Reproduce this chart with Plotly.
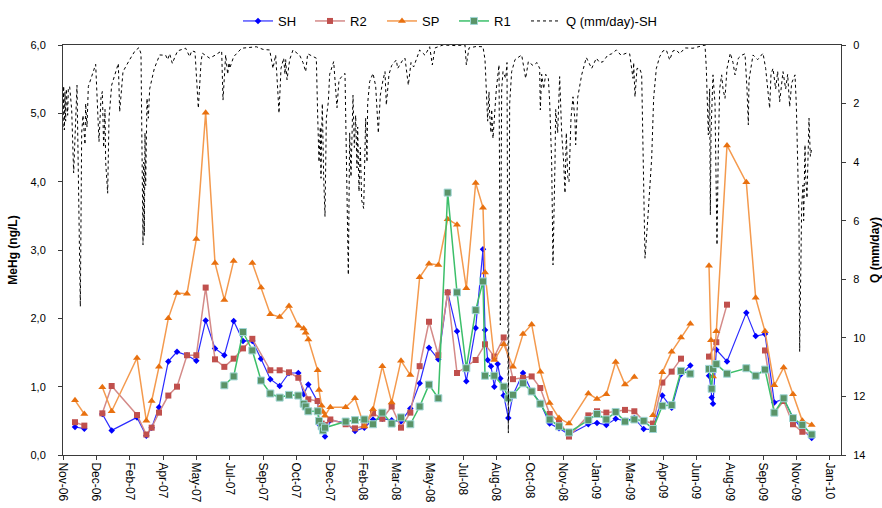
import pandas as pd
import plotly.graph_objects as go

# ---- MeHg samples (ng/L); None marks a break in the sampling record ----
sh_dates = ["2006-11-28", "2006-12-12", "2006-12-26", "2007-01-08", "2007-01-22", "2007-03-01", "2007-03-15",
            "2007-03-23", "2007-04-03", "2007-04-17", "2007-04-30", "2007-05-15", "2007-05-29", "2007-06-12",
            "2007-06-26", "2007-07-10", "2007-07-24", "2007-08-07", "2007-08-21", "2007-09-03", "2007-09-17",
            "2007-10-01", "2007-10-15", "2007-10-29", "2007-11-06", "2007-11-13", "2007-11-27", "2007-11-29",
            "2007-12-03", "2007-12-05", "2007-12-08", "2007-12-16", "2008-01-08", "2008-01-22", "2008-02-05",
            "2008-02-18", "2008-03-03", "2008-03-17", "2008-03-31", "2008-04-14", "2008-04-28", "2008-05-12",
            "2008-05-26", "2008-06-09", "2008-06-23", "2008-07-07", "2008-07-21", "2008-08-01", "2008-08-04",
            "2008-08-08", "2008-08-13", "2008-08-18", "2008-08-23", "2008-08-27", "2008-09-01", "2008-09-08",
            "2008-09-15", "2008-09-30", "2008-10-13", "2008-10-26", "2008-11-09", "2008-11-23", "2008-12-08",
            "2009-01-06", "2009-01-19", "2009-02-02", "2009-02-16", "2009-03-02", "2009-03-16", "2009-03-30",
            "2009-04-13", "2009-04-27", "2009-05-11", "2009-05-25", "2009-06-08", "2009-06-22", "2009-07-06",
            "2009-07-09", "2009-07-10", "2009-07-12", "2009-07-17", "2009-08-02", "2009-08-31", "2009-09-14",
            "2009-09-28", "2009-10-12", "2009-10-26", "2009-11-09", "2009-11-23", "2009-12-07"]
sh_vals = [0.41, 0.385, None, 0.60, 0.36, 0.55, 0.28,
           0.40, 0.70, 1.37, 1.51, 1.46, 1.38, 1.97,
           1.56, 1.46, 1.96, 1.67, 1.67, 1.41, 1.11,
           1.01, 1.20, 1.20, 0.89, 1.03, 0.78, 0.45,
           0.40, 0.35, 0.27, 0.51, 0.47, 0.35, 0.40,
           0.52, 0.53, 0.51, 0.49, 0.68, 1.05, 1.57,
           1.40, 2.38, 1.81, 1.08, 1.86, 3.01, 1.83,
           1.39, 1.30, 1.00, 1.33, 1.12, 0.87, 0.54,
           0.88, 1.20, 0.93, 0.76, 0.46, 0.39, 0.30,
           0.45, 0.47, 0.44, 0.53, 0.50, 0.54, 0.38,
           0.37, 0.87, 0.69, 1.18, 1.31, None, 1.16,
           0.98, 0.84, 0.75, 1.54, 1.37, 2.08, 1.74,
           1.77, 0.77, 0.82, 0.55, 0.37, 0.25]

r2_dates = ["2006-11-28", "2006-12-12", "2006-12-26", "2007-01-08", "2007-01-22", "2007-03-01", "2007-03-15",
            "2007-03-23", "2007-04-03", "2007-04-17", "2007-04-30", "2007-05-15", "2007-05-29", "2007-06-12",
            "2007-06-26", "2007-07-10", "2007-07-24", "2007-08-07", "2007-08-21", "2007-09-17", "2007-10-01",
            "2007-10-15", "2007-10-29", "2007-11-13", "2007-11-27", "2007-11-29", "2007-12-03", "2007-12-08",
            "2007-12-16", "2008-01-08", "2008-01-22", "2008-02-05", "2008-02-18", "2008-03-03", "2008-03-17",
            "2008-03-31", "2008-04-14", "2008-04-28", "2008-05-12", "2008-05-26", "2008-06-09", "2008-06-23",
            "2008-07-21", "2008-08-04", "2008-08-18", "2008-09-01", "2008-09-15", "2008-09-30", "2008-10-13",
            "2008-10-26", "2008-11-09", "2008-11-23", "2008-12-08", "2009-01-06", "2009-01-19", "2009-02-02",
            "2009-02-16", "2009-03-02", "2009-03-16", "2009-03-30", "2009-04-13", "2009-04-27", "2009-05-11",
            "2009-05-25", "2009-06-22", "2009-07-06", "2009-07-17", "2009-08-02", "2009-08-20", "2009-09-28",
            "2009-10-12", "2009-10-26", "2009-11-09", "2009-11-23", "2009-12-07"]
r2_vals = [0.48, 0.43, None, 0.61, 1.01, 0.585, 0.30,
           0.40, 0.62, 0.87, 1.00, 1.46, 1.46, 2.45,
           1.40, 1.29, 1.41, 1.56, 1.70, 1.24, 1.24,
           1.21, 1.13, 0.815, 0.79, 0.50, 0.46, 0.44,
           0.52, 0.45, 0.39, 0.43, 0.61, 0.53, 0.71,
           0.40, 0.62, 1.30, 1.95, 1.46, 2.38, 1.20,
           1.39, 1.62, 1.44, 1.72, 1.11, 1.13, 1.15,
           0.98, 0.60, 0.50, 0.27, 0.58, 0.64, 0.62,
           0.64, 0.66, 0.64, 0.50, 0.46, 1.06, 1.22,
           1.41, None, 1.44, 1.65, 2.20, None, 1.53,
           0.62, 0.79, 0.45, 0.34, 0.30]

sp_dates = ["2006-11-28", "2006-12-12", "2006-12-26", "2007-01-08", "2007-01-22", "2007-03-01", "2007-03-15",
            "2007-03-23", "2007-04-03", "2007-04-17", "2007-04-30", "2007-05-15", "2007-05-29", "2007-06-12",
            "2007-06-26", "2007-07-10", "2007-07-24", "2007-08-07", "2007-08-21", "2007-09-03", "2007-09-17",
            "2007-10-01", "2007-10-15", "2007-10-29", "2007-11-06", "2007-11-09", "2007-11-13", "2007-11-27",
            "2007-11-29", "2007-12-03", "2007-12-05", "2007-12-08", "2007-12-16", "2008-01-08", "2008-01-22",
            "2008-02-05", "2008-02-18", "2008-03-03", "2008-03-17", "2008-03-31", "2008-04-14", "2008-04-28",
            "2008-05-12", "2008-05-26", "2008-06-09", "2008-06-23", "2008-07-07", "2008-07-21", "2008-08-01",
            "2008-08-04", "2008-08-18", "2008-09-01", "2008-09-15", "2008-09-30", "2008-10-13", "2008-10-26",
            "2008-11-09", "2008-11-23", "2008-12-08", "2009-01-06", "2009-01-19", "2009-02-02", "2009-02-16",
            "2009-03-02", "2009-03-16", "2009-03-30", "2009-04-13", "2009-04-27", "2009-05-11", "2009-05-25",
            "2009-06-08", "2009-06-22", "2009-07-06", "2009-07-09", "2009-07-12", "2009-07-17", "2009-08-02",
            "2009-08-31", "2009-09-14", "2009-09-28", "2009-10-12", "2009-10-26", "2009-11-09", "2009-11-23",
            "2009-12-07"]
sp_vals = [0.80, 0.60, None, 0.99, 0.64, 1.42, 0.50,
           0.79, 1.29, 2.00, 2.37, 2.36, 3.16, 5.01,
           2.81, 2.27, 2.84, None, 2.81, 2.45, 2.06,
           2.02, 2.18, 1.89, 1.85, 1.79, 1.69, 1.24,
           0.95, 0.72, 0.63, 0.575, 0.70, 0.70, 0.83,
           0.42, 0.67, 1.30, 0.77, 1.38, 1.17, 2.60,
           2.80, 2.78, 3.45, 3.37, 2.44, 3.98, 3.62,
           2.67, 1.39, 1.62, 1.29, 1.77, 1.91, 1.22,
           0.76, 0.54, 0.46, 0.90, 0.82, 0.89, 1.36,
           1.03, 1.14, None, 0.58, 1.21, 1.51, 1.72,
           1.92, None, 2.77, 1.68, 1.15, 1.81, 4.53,
           3.99, 2.30, 1.81, 1.02, 1.28, 0.89, 0.50,
           0.44]

r1_dates = ["2007-07-10", "2007-07-24", "2007-08-07", "2007-08-21", "2007-09-03", "2007-09-17", "2007-10-01",
            "2007-10-15", "2007-10-29", "2007-11-06", "2007-11-09", "2007-11-13", "2007-11-27", "2007-11-29",
            "2007-12-03", "2007-12-05", "2007-12-08", "2008-01-08", "2008-01-22", "2008-02-05", "2008-02-18",
            "2008-03-03", "2008-03-17", "2008-03-31", "2008-04-14", "2008-04-28", "2008-05-12", "2008-05-26",
            "2008-06-09", "2008-06-23", "2008-07-07", "2008-07-21", "2008-08-01", "2008-08-04", "2008-08-18",
            "2008-09-01", "2008-09-08", "2008-09-15", "2008-09-30", "2008-10-13", "2008-10-26", "2008-11-09",
            "2008-11-23", "2008-12-08", "2009-01-06", "2009-01-19", "2009-02-02", "2009-02-16", "2009-03-02",
            "2009-03-16", "2009-03-30", "2009-04-13", "2009-04-27", "2009-05-11", "2009-05-25", "2009-06-08",
            "2009-06-22", "2009-07-06", "2009-07-10", "2009-07-12", "2009-07-17", "2009-08-02", "2009-08-31",
            "2009-09-14", "2009-09-28", "2009-10-12", "2009-10-26", "2009-11-09", "2009-11-23", "2009-12-07"]
r1_vals = [1.02, 1.15, 1.80, 1.53, 1.09, 0.90, 0.84,
           0.88, 0.87, 0.75, 0.71, 0.64, 0.64, 0.50,
           0.42, 0.36, 0.40, 0.49, 0.51, 0.52, 0.45,
           0.62, 0.46, 0.55, 0.45, 0.71, 1.03, 0.83,
           3.84, 2.38, 1.27, 2.12, 2.54, 1.16, 1.16,
           1.00, 0.83, 0.88, 1.05, 0.93, 0.75, 0.52,
           0.42, 0.33, 0.51, 0.60, 0.52, 0.63, 0.49,
           0.52, 0.50, 0.38, 0.72, 0.73, 1.23, 1.19,
           None, 1.26, 0.97, 1.26, 1.33, 1.19, 1.27,
           1.16, 1.25, 0.62, 0.83, 0.54, 0.44, 0.30]

# ---- Daily discharge at SH (mm/day), day number counted from the record start ----
q_start = "2006-11-10"
q_day = [0, 1, 2, 3, 4, 5, 7, 8, 10, 13, 16, 21, 26, 28, 30, 33, 34, 36, 38, 49,
         54, 57, 59, 61, 63, 64, 67, 69, 73, 83, 85, 90, 100, 108, 114, 117, 120, 121, 122, 123,
         124, 126, 128, 130, 137, 145, 154, 157, 160, 164, 168, 172, 184, 190, 193, 198, 203, 207, 209, 220,
         228, 238, 240, 244, 247, 249, 250, 256, 268, 290, 300, 310, 315, 319, 322, 324, 327, 331, 333, 334,
         336, 340, 345, 355, 360, 364, 367, 380, 382, 384, 386, 387, 388, 389, 391, 393, 395, 398, 400, 406,
         411, 414, 418, 423, 428, 430, 432, 435, 437, 439, 441, 442, 444, 446, 448, 451, 454, 456, 457, 460,
         465, 469, 473, 476, 480, 483, 485, 489, 493, 500, 502, 505, 510, 513, 518, 522, 526, 535, 543, 550,
         554, 558, 570, 588, 603, 605, 609, 620, 630, 633, 635, 637, 639, 640, 642, 643, 645, 648, 650, 654,
         656, 658, 660, 664, 666, 668, 670, 673, 678, 688, 690, 694, 698, 705, 711, 715, 716, 718, 721, 724,
         728, 730, 733, 735, 738, 739, 742, 745, 748, 751, 753, 755, 757, 759, 762, 765, 768, 769, 772, 778,
         785, 790, 793, 800, 805, 810, 817, 823, 830, 837, 845, 850, 855, 856, 858, 861, 865, 868, 873, 877,
         883, 886, 890, 895, 900, 905, 910, 915, 920, 925, 933, 945, 955, 963, 965, 967, 968, 970, 971, 972,
         975, 978, 979, 981, 983, 985, 988, 990, 993, 996, 1001, 1005, 1008, 1013, 1018, 1023, 1026, 1028, 1029, 1035,
         1042, 1050, 1054, 1057, 1060, 1062, 1065, 1069, 1072, 1075, 1078, 1080, 1084, 1087, 1090, 1093, 1098, 1100, 1102, 1104,
         1105, 1107, 1108, 1110, 1111, 1113, 1114, 1116, 1118, 1119, 1121, 1123]
q_vals = [2.8, 1.4, 2.9, 1.6, 2.6, 1.5, 2.4, 1.5, 1.42, 2.2, 4.37, 1.37, 8.93, 3.0, 2.4, 3.4, 2.0, 2.8, 1.42, 0.66,
          3.30, 1.8, 1.59, 3.5, 2.2, 4.0, 5.06, 2.5, 1.37, 0.63, 2.28, 0.91, 0.5, 0.2, 0.09, 0.3, 6.83, 4.0, 6.5, 3.0,
          4.8, 1.82, 2.5, 1.5, 0.8, 0.34, 0.35, 0.5, 0.3, 0.63, 0.4, 0.2, 0.11, 0.4, 0.2, 0.23, 2.16, 0.6, 0.28, 0.45,
          0.35, 0.20, 1.88, 0.34, 1.0, 0.6, 0.8, 0.4, 0.11, 0.06, 0.15, 0.17, 0.80, 0.34, 1.5, 2.33, 0.8, 0.45, 1.0, 0.5,
          1.19, 0.5, 0.17, 0.35, 0.6, 0.91, 0.3, 0.45, 2.4, 4.0, 2.8, 4.55, 3.0, 2.0, 4.5, 5.86, 2.5, 1.94, 1.0, 0.57,
          2.14, 1.2, 1.08, 0.97, 7.85, 3.0, 4.5, 1.71, 3.5, 2.4, 4.2, 2.8, 5.0, 3.5, 5.3, 5.58, 2.5, 4.0, 2.0, 1.25,
          0.97, 1.4, 3.01, 1.71, 1.2, 0.91, 2.05, 1.0, 0.7, 0.51, 0.8, 0.68, 0.5, 0.45, 1.37, 0.6, 0.75, 0.17, 0.35, 0.06,
          0.68, 0.1, 0.0, 0.02, 0.0, 0.68, 0.1, 0.05, 0.06, 0.5, 1.37, 2.6, 1.6, 2.39, 3.0, 2.2, 3.19, 2.0, 1.5, 0.68,
          9.56, 1.5, 0.91, 1.14, 0.6, 13.25, 2.0, 0.91, 0.5, 0.34, 0.6, 1.14, 0.57, 0.7, 0.6, 0.80, 2.22, 1.0, 1.5, 1.0,
          1.14, 1.94, 4.0, 7.51, 4.0, 2.2, 3.0, 1.08, 3.0, 4.0, 5.06, 3.0, 4.5, 4.67, 2.5, 1.77, 2.6, 3.41, 1.8, 1.02,
          0.43, 0.7, 0.80, 0.45, 0.6, 0.57, 0.35, 0.3, 0.17, 0.35, 0.28, 0.3, 1.14, 0.6, 1.77, 0.8, 0.80, 1.0, 7.28, 6.0,
          3.87, 1.8, 0.80, 0.4, 0.2, 0.17, 0.51, 0.2, 0.17, 0.3, 0.1, 0.11, 0.05, 0.0, 0.80, 2.0, 3.07, 1.5, 5.80, 3.0,
          1.02, 2.0, 4.0, 6.83, 3.5, 1.5, 1.02, 1.5, 1.82, 0.8, 0.28, 0.6, 1.02, 0.45, 0.35, 0.3, 1.5, 2.73, 1.2, 0.34,
          0.5, 0.28, 0.8, 1.5, 2.16, 1.0, 0.80, 1.5, 0.9, 1.94, 1.2, 0.91, 1.5, 1.0, 2.11, 1.3, 1.02, 2.05, 4.0, 6.0,
          10.47, 7.0, 5.5, 4.78, 6.0, 3.41, 4.5, 5.23, 3.0, 2.50, 3.8, 3.53]

q_dates = pd.Timestamp(q_start) + pd.to_timedelta(q_day, unit="D")

FONT = "Arial, Liberation Sans, sans-serif"
AXIS_COLOR = "#3a3a3a"

fig = go.Figure()

fig.add_trace(go.Scatter(
    x=sh_dates, y=sh_vals, name="SH", mode="lines+markers", legendwidth=27,
    line=dict(color="#2b2bff", width=1.2),
    marker=dict(symbol="diamond", size=5, color="#0000ff"),
))
fig.add_trace(go.Scatter(
    x=r2_dates, y=r2_vals, name="R2", mode="lines+markers", legendwidth=27,
    line=dict(color="#d48a88", width=1.5),
    marker=dict(symbol="square", size=6, color="#c0504d"),
))
fig.add_trace(go.Scatter(
    x=sp_dates, y=sp_vals, name="SP", mode="lines+markers", legendwidth=27,
    line=dict(color="#f49a4e", width=1.5),
    marker=dict(symbol="triangle-up", size=7, color="#e8700f"),
))
fig.add_trace(go.Scatter(
    x=r1_dates, y=r1_vals, name="R1", mode="lines+markers", legendwidth=27,
    line=dict(color="#3cbf6a", width=1.5),
    marker=dict(symbol="square", size=7, color="#5a9468",
                line=dict(color="#9fd6d6", width=1)),
))
fig.add_trace(go.Scatter(
    x=q_dates, y=q_vals, name="Q (mm/day)-SH", mode="lines", yaxis="y2", legendwidth=110,
    line=dict(color="#000000", width=1, dash="dot"),
))

fig.update_layout(
    width=882, height=508,
    margin=dict(l=63, r=41, t=45, b=53),
    paper_bgcolor="white", plot_bgcolor="white",
    separators=",.",
    font=dict(family=FONT, size=12, color="#000000"),
    showlegend=True,
    legend=dict(orientation="h", xref="container", yref="container",
                x=238 / 882, xanchor="left", y=1 - 21 / 508, yanchor="middle",
                font=dict(size=13), itemwidth=30,
                bgcolor="rgba(0,0,0,0)"),
    xaxis=dict(
        type="date", range=["2006-11-10", "2010-01-20"],
        tick0="2006-11-10", dtick=50 * 86400000, tickformat="%b-%y",
        tickangle=90, ticks="outside", ticklen=4, tickcolor=AXIS_COLOR,
        showline=True, linecolor=AXIS_COLOR, linewidth=1, mirror=True,
        showgrid=False, zeroline=False, automargin=False,
        tickfont=dict(size=12),
    ),
    yaxis=dict(
        range=[0, 6], dtick=1, tickformat=".1f",
        ticks="outside", ticklen=4, tickcolor=AXIS_COLOR, ticklabelstandoff=10,
        showline=True, linecolor=AXIS_COLOR, linewidth=1,
        showgrid=False, zeroline=False, automargin=False,
        tickfont=dict(size=11),
        title=dict(text="<b>MeHg (ng/L)</b>", font=dict(size=12), standoff=10),
    ),
    yaxis2=dict(
        overlaying="y", side="right", range=[14, 0], dtick=2, tickformat="d",
        ticks="outside", ticklen=4, tickcolor=AXIS_COLOR, ticklabelstandoff=5,
        showline=True, linecolor=AXIS_COLOR, linewidth=1,
        showgrid=False, zeroline=False, automargin=False,
        tickfont=dict(size=11),
        title=dict(text="<b>Q (mm/day)</b>", font=dict(size=12), standoff=8),
    ),
)

fig.write_html("out.html")
